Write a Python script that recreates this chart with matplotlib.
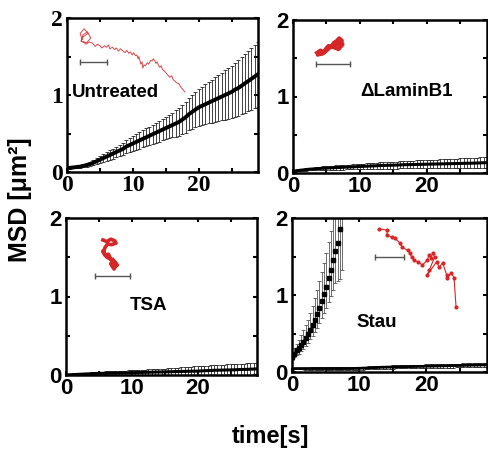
import numpy as np
import matplotlib
matplotlib.use("Agg")
import matplotlib.pyplot as plt

# ---------------- data ----------------
dt = 0.5
untreated_msd = [0.05,0.055,0.06,0.065,0.07,0.08,0.09,0.105,0.12,0.14,
                 0.16,0.18,0.20,0.22,0.24,0.26,0.28,0.30,0.33,0.35,
                 0.37,0.39,0.41,0.43,0.45,0.47,0.49,0.51,0.53,0.55,
                 0.57,0.59,0.61,0.63,0.65,0.68,0.71,0.75,0.78,0.81,
                 0.84,0.86,0.88,0.90,0.92,0.94,0.96,0.98,1.00,1.02,
                 1.04,1.07,1.09,1.12,1.15,1.18,1.21,1.24,1.27]
untreated_err = [0.01,0.01,0.012,0.015,0.018,0.02,0.025,0.03,0.035,0.04,
                 0.045,0.05,0.055,0.06,0.065,0.07,0.075,0.08,0.085,0.09,
                 0.095,0.10,0.105,0.11,0.115,0.12,0.125,0.13,0.135,0.14,
                 0.145,0.15,0.16,0.17,0.18,0.19,0.20,0.21,0.22,0.23,
                 0.24,0.25,0.26,0.27,0.28,0.29,0.30,0.31,0.32,0.33,
                 0.34,0.35,0.36,0.37,0.38,0.39,0.40,0.41,0.42]

lamin_msd = [0.02,0.03,0.035,0.04,0.045,0.05,0.053,0.056,0.059,0.062,
             0.065,0.067,0.069,0.071,0.073,0.075,0.077,0.079,0.081,0.083,
             0.085,0.087,0.089,0.091,0.093,0.095,0.097,0.099,0.10,0.101,
             0.102,0.104,0.106,0.108,0.109,0.11,0.111,0.112,0.113,0.114,
             0.115,0.116,0.117,0.118,0.119,0.12,0.121,0.122,0.123,0.124,
             0.125,0.126,0.127,0.128,0.129,0.13,0.132,0.134,0.135]
lamin_err = [0.005,0.008,0.01,0.012,0.014,0.016,0.018,0.02,0.022,0.024,
             0.025,0.026,0.027,0.028,0.029,0.03,0.031,0.032,0.033,0.034,
             0.035,0.036,0.037,0.038,0.039,0.04,0.041,0.042,0.043,0.044,
             0.045,0.046,0.047,0.048,0.049,0.05,0.051,0.052,0.053,0.054,
             0.055,0.056,0.057,0.058,0.059,0.06,0.061,0.062,0.063,0.064,
             0.065,0.066,0.067,0.068,0.069,0.07,0.071,0.072,0.073]

tsa_msd = [0.0,0.003,0.005,0.007,0.009,0.011,0.013,0.015,0.017,0.019,
           0.02,0.021,0.022,0.023,0.024,0.025,0.026,0.027,0.028,0.029,
           0.03,0.031,0.032,0.033,0.034,0.035,0.036,0.037,0.038,0.039,
           0.04,0.041,0.042,0.043,0.044,0.045,0.046,0.047,0.048,0.049,
           0.05,0.052,0.054,0.056,0.058,0.06,0.061,0.062,0.063,0.064,
           0.065,0.066,0.068,0.07,0.071,0.072,0.074,0.076,0.078]
tsa_err = [0.002,0.004,0.006,0.008,0.01,0.012,0.014,0.016,0.018,0.02,
           0.021,0.022,0.023,0.024,0.025,0.026,0.027,0.028,0.029,0.03,
           0.031,0.032,0.033,0.034,0.035,0.036,0.037,0.038,0.039,0.04,
           0.042,0.044,0.046,0.048,0.05,0.052,0.054,0.056,0.058,0.06,
           0.061,0.062,0.063,0.064,0.065,0.066,0.067,0.068,0.069,0.07,
           0.071,0.072,0.073,0.074,0.075,0.076,0.077,0.078,0.08]

stau_slow_msd = [0.04,0.045,0.045,0.045,0.045,0.045,0.045,0.045,0.045,0.045,
                 0.045,0.045,0.045,0.045,0.045,0.045,0.045,0.045,0.046,0.047,
                 0.048,0.05,0.052,0.054,0.056,0.058,0.06,0.062,0.063,0.064,
                 0.065,0.066,0.067,0.068,0.069,0.07,0.071,0.072,0.073,0.074,
                 0.075,0.076,0.077,0.078,0.079,0.08,0.081,0.082,0.083,0.084,
                 0.085,0.086,0.087,0.088,0.089,0.09,0.091,0.092,0.093]
stau_slow_err = [0.01,0.01,0.012,0.012,0.013,0.013,0.014,0.014,0.015,0.015,
                 0.015,0.015,0.016,0.016,0.016,0.016,0.017,0.017,0.017,0.017,
                 0.018,0.018,0.018,0.018,0.019,0.019,0.019,0.019,0.02,0.02,
                 0.02,0.02,0.021,0.021,0.021,0.021,0.022,0.022,0.022,0.022,
                 0.023,0.023,0.023,0.023,0.024,0.024,0.024,0.024,0.025,0.025,
                 0.025,0.025,0.026,0.026,0.026,0.026,0.027,0.027,0.027]

stau_dt = 0.34
stau_fast_msd = [0.20,0.24,0.28,0.31,0.35,0.39,0.44,0.49,0.55,0.61,0.68,
                 0.75,0.83,0.92,1.01,1.11,1.22,1.33,1.45,1.57,1.68,1.86,2.02]
stau_fast_up = [0.05,0.07,0.09,0.11,0.13,0.15,0.17,0.19,0.22,0.25,0.28,
                0.31,0.35,0.38,0.41,0.44,0.47,0.5,0.55,0.6,0.65,0.7,0.75]
stau_fast_lo = [0.04,0.05,0.06,0.07,0.08,0.09,0.1,0.11,0.12,0.14,0.16,
                0.18,0.2,0.22,0.25,0.28,0.31,0.34,0.38,0.42,0.5,0.65,0.7]

# trajectories (insets), in data coordinates of each panel
traj_untreated_x = [2.3,2.0,2.6,3.2,2.5,2.1,3.0,3.6,3.1,2.4,2.2,2.9,3.4,3.9,4.3,4.6,5.0,5.3,5.7,
                    6.0,6.3,6.5,6.9,7.2,7.5,7.8,8.1,8.4,8.8,9.1,9.4,9.6,9.9,10.1,10.4,10.6,
                    10.8,10.9,11.1,11.2,11.4,11.5,11.7,11.9,12.2,12.4,12.7,12.9,13.1,13.3,
                    13.5,13.7,13.9,14.1,14.3,14.5,14.8,15.0,15.3,15.6,15.9,16.1,16.4,16.6,
                    16.9,17.1,17.3,17.5,17.7,17.9]
traj_untreated_y = [1.72,1.80,1.86,1.80,1.76,1.70,1.68,1.74,1.82,1.78,1.70,1.66,1.69,1.67,
                    1.63,1.66,1.64,1.61,1.64,1.62,1.65,1.60,1.62,1.59,1.61,1.57,1.60,1.58,
                    1.55,1.58,1.54,1.56,1.52,1.55,1.51,1.52,1.47,1.50,1.44,1.40,1.43,1.35,
                    1.39,1.38,1.42,1.40,1.45,1.44,1.47,1.45,1.41,1.43,1.38,1.36,1.38,1.33,
                    1.31,1.29,1.26,1.23,1.25,1.20,1.18,1.16,1.15,1.13,1.10,1.08,1.06,1.04]
bar_untreated = [2.0, 6.0, 1.43]

traj_lamin_x = [3.6,4.1,4.6,5.0,5.3,5.8,6.1,6.5,6.9,7.3,7.0,6.6,6.2,6.8,7.4,6.9,5.9,5.1,4.4,3.8]
traj_lamin_y = [1.57,1.60,1.58,1.63,1.66,1.65,1.70,1.72,1.76,1.73,1.68,1.70,1.64,1.62,1.68,
                1.74,1.67,1.61,1.56,1.55]
bar_lamin = [3.5, 8.5, 1.43]

traj_tsa_x = [5.6,6.2,6.8,7.4,7.6,6.9,6.3,5.9,5.7,6.0,5.6,6.2,6.7,6.4,6.9,7.4,7.8,7.2,6.8,7.3,7.6,7.1]
traj_tsa_y = [1.72,1.70,1.73,1.71,1.68,1.66,1.67,1.62,1.56,1.52,1.58,1.50,1.48,1.54,1.46,
              1.44,1.40,1.37,1.42,1.35,1.41,1.47]
bar_tsa = [4.4, 9.7, 1.26]

traj_stau_x = [13.0,14.2,14.1,14.8,15.3,16.0,16.4,17.2,17.5,17.8,18.2,18.7,19.4,20.1,20.4,
               20.7,20.9,21.2,20.4,20.1,21.5,21.9,22.4,23.0,23.1,23.7,24.1,24.4]
traj_stau_y = [1.86,1.84,1.78,1.75,1.74,1.68,1.62,1.58,1.55,1.49,1.45,1.43,1.39,1.45,1.52,
               1.48,1.55,1.49,1.32,1.26,1.43,1.36,1.42,1.26,1.22,1.29,1.22,0.84]
bar_stau = [12.4, 16.7, 1.49]

labels = ["Untreated", "\u0394LaminB1", "TSA", "Stau"]
xticks = [0, 10, 20]
yticks = [0, 1, 2]

# ---------------- figure ----------------
W, H = 488, 453
fig = plt.figure(figsize=(W/100, H/100), dpi=100)

def rect(l, r, t, b):
    return [l/W, 1-b/H, (r-l)/W, (b-t)/H]

axes = [fig.add_axes(rect(67, 258, 18, 172)),
        fig.add_axes(rect(293, 487, 20, 173)),
        fig.add_axes(rect(66, 257, 218, 375)),
        fig.add_axes(rect(292, 487, 218, 372))]

for i, ax in enumerate(axes):
    ax.set_xlim(0, 29)
    ax.set_ylim(0, 2)
    ax.set_xticks(xticks)
    ax.set_yticks(yticks)
    ax.set_xticks([5, 15, 25], minor=True)
    ax.set_yticks([0.5, 1.5], minor=True)
    ax.tick_params(which='both', direction='in', top=True, right=True,
                   length=3, width=1.5)
    ax.tick_params(axis='x', pad=2)
    ax.tick_params(axis='y', pad=3)
    for s in ax.spines.values():
        s.set_linewidth(1.8)
    fam = 'Liberation Serif' if i == 0 else 'Liberation Sans'
    for lab in ax.get_xticklabels() + ax.get_yticklabels():
        lab.set_fontfamily(fam)
        lab.set_fontweight('bold')
        lab.set_fontsize(17 if i == 0 else 16)

t = np.arange(len(untreated_msd)) * dt

def draw_err(ax, tt, m, lo, hi, lw_line=2.5, color='black', ecol='#222222', marker=None, ms=3):
    ax.errorbar(tt, m, yerr=[lo, hi], fmt='none', ecolor=ecol, elinewidth=0.6,
                capsize=1.5, capthick=0.6, zorder=2, clip_on=True)
    if marker:
        ax.plot(tt, m, linestyle='none', marker=marker, color=color, ms=ms, zorder=3)
    else:
        ax.plot(tt, m, color=color, lw=lw_line, zorder=3)

def draw_traj(ax, xs, ys, bar, lw=0.8, ms=0, alpha=1.0):
    ax.plot(xs, ys, color='#d62728', lw=lw, marker='o' if ms else None, ms=ms, zorder=4,
            alpha=alpha)
    ax.plot([bar[0], bar[1]], [bar[2], bar[2]], color='#555555', lw=1.0, marker='|',
            ms=4, mew=1.0, zorder=4)

# Untreated
ax = axes[0]
draw_err(ax, t, untreated_msd, untreated_err, untreated_err, lw_line=2.8)
draw_traj(ax, traj_untreated_x, traj_untreated_y, bar_untreated, lw=0.7, alpha=0.85)
ax.text(0.8, 1.03, labels[0], ha='left', va='center', fontsize=13.5, fontweight='bold',
        family='Liberation Sans')

# LaminB1
ax = axes[1]
draw_err(ax, t, lamin_msd, lamin_err, lamin_err, lw_line=2.2)
draw_traj(ax, traj_lamin_x, traj_lamin_y, bar_lamin, lw=3.0)
ax.text(17.0, 1.07, labels[1], ha='center', va='center', fontsize=13.5, fontweight='bold',
        family='Liberation Sans')

# TSA
ax = axes[2]
draw_err(ax, t, tsa_msd, tsa_err, tsa_err, lw_line=2.2)
draw_traj(ax, traj_tsa_x, traj_tsa_y, bar_tsa, lw=2.6)
ax.text(12.5, 0.89, labels[2], ha='center', va='center', fontsize=13.5, fontweight='bold',
        family='Liberation Sans')

# Stau
ax = axes[3]
draw_err(ax, t, stau_slow_msd, stau_slow_err, stau_slow_err, lw_line=2.0)
ts = np.arange(len(stau_fast_msd)) * stau_dt
draw_err(ax, ts, stau_fast_msd, stau_fast_lo, stau_fast_up, ecol='#555555',
         marker='s', ms=3)
draw_traj(ax, traj_stau_x, traj_stau_y, bar_stau, lw=0.8, ms=2)
ax.text(12.6, 0.64, labels[3], ha='center', va='center', fontsize=13.5, fontweight='bold',
        family='Liberation Sans')

fig.text(20/W, 1-200/H, "MSD [\u03bcm\u00b2]", rotation=90, ha='center', va='center',
         fontsize=18, fontweight='bold', family='Liberation Sans')
fig.text(270/W, 1-437/H, "time[s]", ha='center', va='center',
         fontsize=17, fontweight='bold', family='Liberation Sans')

fig.savefig("out.png", dpi=100)
